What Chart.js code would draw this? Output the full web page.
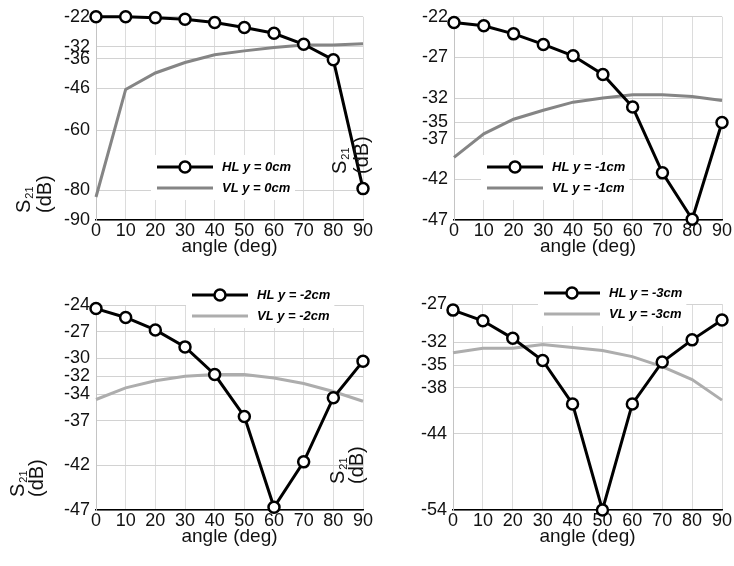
<!DOCTYPE html>
<html>
<head>
<meta charset="utf-8">
<script src="https://cdn.jsdelivr.net/npm/chart.js@4.4.0/dist/chart.umd.min.js"></script>
<style>
html, body { margin: 0; padding: 0; background: #fff; }
#wrap { position: relative; width: 734px; height: 566px; overflow: hidden; }
canvas { position: absolute; }
</style>
</head>
<body>
<div id="wrap">
	<canvas id="c0"></canvas>
	<canvas id="c2"></canvas>
	<canvas id="c1"></canvas>
	<canvas id="c3"></canvas>
</div>
<script>
// ----------------------- data ----------------------------
const angles = [0, 10, 20, 30, 40, 50, 60, 70, 80, 90];

const hl0 = [-22, -22, -22.3, -22.8, -23.9, -25.6, -27.5, -31.2, -36.4, -79.5];
const vl0 = [-82.3, -46.3, -40.8, -37.3, -34.7, -33.4, -32.3, -31.4, -31.4, -31.0];

const hl1 = [-22.7, -23.1, -24.1, -25.4, -26.8, -29.1, -33.1, -41.2, -46.9, -35.0];
const vl1 = [-39.3, -36.4, -34.6, -33.5, -32.5, -32.0, -31.6, -31.6, -31.8, -32.3];

const hl2 = [-24.4, -25.4, -26.8, -28.7, -31.8, -36.5, -46.7, -41.6, -34.4, -30.3];
const vl2 = [-34.6, -33.3, -32.5, -32.0, -31.8, -31.8, -32.2, -32.8, -33.7, -34.8];

const hl3 = [-27.8, -29.2, -31.5, -34.4, -40.1, -54, -40.1, -34.6, -31.7, -29.1];
const vl3 = [-33.4, -32.8, -32.8, -32.3, -32.7, -33.1, -33.9, -35.2, -36.9, -39.6];

const yt0 = [-22, -32, -36, -46, -60, -80, -90];
const yt1 = [-22, -27, -32, -35, -37, -42, -47];
const yt2 = [-24, -27, -30, -32, -34, -37, -42, -47];
const yt3 = [-27, -32, -35, -38, -44, -54];

const offsets = ['0cm', '-1cm', '-2cm', '-3cm'];
const xTitle = 'angle (deg)';

// ----------------------- plugins ----------------------------
Chart.defaults.font.family = '"Liberation Sans", Arial, Helvetica, sans-serif';
Chart.defaults.font.size = 18;
Chart.defaults.color = '#111';

// legend drawn inside the plot, line + marker sample
const legendBox = {
	id: 'legendBox',
	afterDatasetsDraw(chart, args, o) {
		const ctx = chart.ctx;
		const sets = chart.data.datasets;
		ctx.save();
		ctx.font = 'italic bold 13px "Liberation Sans", Arial, sans-serif';
		let w = 0;
		sets.forEach(d => { w = Math.max(w, ctx.measureText(d.label).width); });
		ctx.fillStyle = '#fff';
		ctx.fillRect(o.x - 6, o.y - 12, 65 + w + 10, 21 * sets.length + 3);
		sets.forEach((d, i) => {
			const yy = o.y + i * 21;
			ctx.strokeStyle = d.borderColor;
			ctx.lineWidth = d.borderWidth;
			ctx.beginPath();
			ctx.moveTo(o.x, yy);
			ctx.lineTo(o.x + 56, yy);
			ctx.stroke();
			if (d.pointRadius > 0) {
				ctx.beginPath();
				ctx.arc(o.x + 28, yy, d.pointRadius, 0, Math.PI * 2);
				ctx.fillStyle = d.pointBackgroundColor;
				ctx.fill();
				ctx.lineWidth = d.pointBorderWidth;
				ctx.strokeStyle = d.pointBorderColor;
				ctx.stroke();
			}
			ctx.fillStyle = '#000';
			ctx.textBaseline = 'middle';
			ctx.textAlign = 'left';
			ctx.fillText(d.label, o.x + 65, yy);
		});
		ctx.restore();
	}
};

// rotated S21 (dB) label, two columns
const yLabel = {
	id: 'yLabel',
	afterDraw(chart, args, o) {
		const ctx = chart.ctx;
		const col = (x, parts) => {
			ctx.save();
			ctx.translate(x, o.y);
			ctx.rotate(-Math.PI / 2);
			ctx.textBaseline = 'middle';
			ctx.textAlign = 'left';
			ctx.fillStyle = '#111';
			let cx = 0;
			parts.forEach(p => {
				ctx.font = p.size + 'px "Liberation Sans", Arial, sans-serif';
				ctx.fillText(p.t, cx, p.dy);
				cx += ctx.measureText(p.t).width + 1;
			});
			ctx.restore();
		};
		col(o.x1, [{ t: 'S', size: 20, dy: 0 }, { t: '21', size: 11, dy: 6 }]);
		col(o.x2, [{ t: '(dB)', size: 20, dy: 0 }]);
	}
};

// ----------------------- panels ----------------------------
function panel(id, hl, vl, yt, off, vlColor, box, area, leg, lab, xpad) {
	const cv = document.getElementById(id);
	cv.width = box.w;
	cv.height = box.h;
	cv.style.left = box.left + 'px';
	cv.style.top = box.top + 'px';

	return new Chart(cv, {
		type: 'line',
		data: {
			datasets: [
				{
					label: 'HL y = ' + off,
					data: angles.map((a, i) => ({ x: a, y: hl[i] })),
					borderColor: '#000',
					borderWidth: 3,
					pointRadius: 5.5,
					pointBorderWidth: 2.5,
					pointBorderColor: '#000',
					pointBackgroundColor: '#fff',
					clip: false
				},
				{
					label: 'VL y = ' + off,
					data: angles.map((a, i) => ({ x: a, y: vl[i] })),
					borderColor: vlColor,
					borderWidth: 3,
					pointRadius: 0,
					clip: false
				}
			]
		},
		options: {
			responsive: false,
			animation: false,
			devicePixelRatio: 1,
			layout: {
				padding: { left: 0, top: area.t - box.top, right: box.left + box.w - area.r, bottom: 0 }
			},
			plugins: {
				legend: { display: false },
				tooltip: { enabled: false },
				legendBox: { x: leg.x - box.left, y: leg.y - box.top },
				yLabel: { x1: lab.x1 - box.left, x2: lab.x2 - box.left, y: lab.y - box.top }
			},
			scales: {
				x: {
					type: 'linear',
					min: 0,
					max: 90,
					ticks: { stepSize: 10, padding: 0, maxRotation: 0, color: '#111' },
					grid: { color: '#dcdcdc', drawTicks: false },
					border: { color: '#000', width: 1.5 },
					title: { display: true, text: xTitle, font: { size: 19 }, color: '#111', padding: { top: 0, bottom: xpad } },
					afterFit: s => { s.height = box.top + box.h - area.b; }
				},
				y: {
					type: 'linear',
					min: Math.min(...yt),
					max: Math.max(...yt),
					afterBuildTicks: s => { s.ticks = yt.map(v => ({ value: v })); },
					ticks: { autoSkip: false, padding: 6, color: '#111', callback: v => String(v) },
					grid: { color: '#d2d2d2', drawTicks: false },
					border: { color: '#c4c4c4', width: 1 },
					afterFit: s => { s.width = area.l - box.left; }
				}
			}
		},
		plugins: [legendBox, yLabel]
	});
}

panel('c0', hl0, vl0, yt0, offsets[0], '#858585',
	{ left: 0, top: 0, w: 380, h: 283 }, { l: 96, t: 15, r: 363, b: 220 },
	{ x: 157, y: 167 }, { x1: 24, x2: 45, y: 213 }, 25);

panel('c1', hl1, vl1, yt1, offsets[1], '#858585',
	{ left: 320, top: 0, w: 414, h: 283 }, { l: 454, t: 15, r: 722, b: 220 },
	{ x: 487, y: 167 }, { x1: 340, x2: 362, y: 174 }, 25);

panel('c2', hl2, vl2, yt2, offsets[2], '#adadad',
	{ left: 0, top: 283, w: 380, h: 283 }, { l: 96, t: 305, r: 363, b: 510 },
	{ x: 192, y: 295 }, { x1: 18, x2: 37, y: 497 }, 18);

panel('c3', hl3, vl3, yt3, offsets[3], '#adadad',
	{ left: 320, top: 283, w: 414, h: 283 }, { l: 453, t: 304, r: 722, b: 510 },
	{ x: 544, y: 293 }, { x1: 338, x2: 357, y: 484 }, 18);
</script>
</body>
</html>
